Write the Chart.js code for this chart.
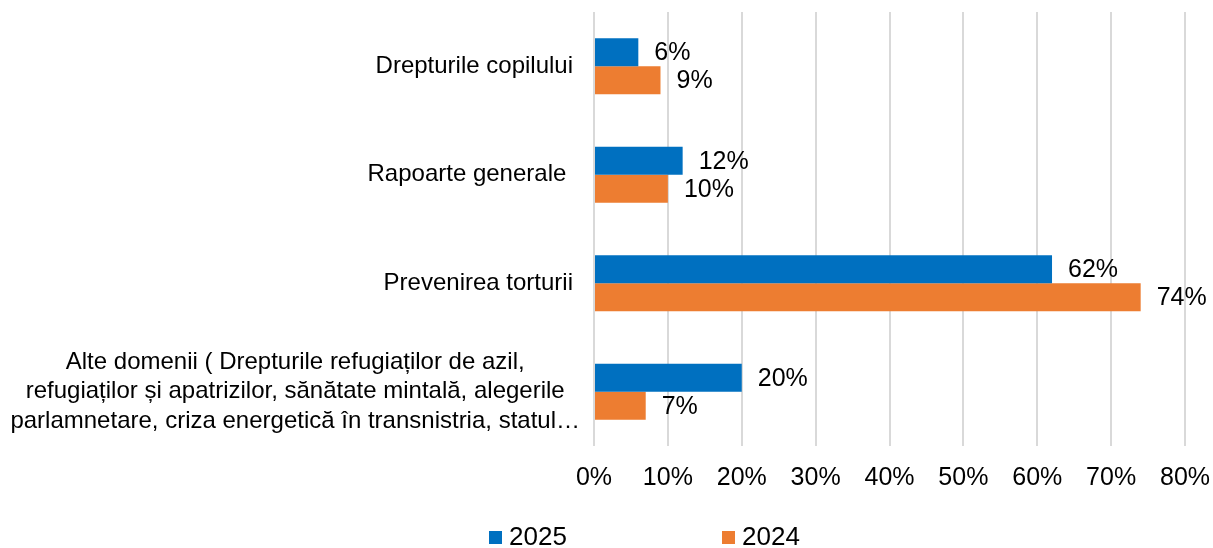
<!DOCTYPE html>
<html>
<head>
<meta charset="utf-8">
<script src="https://cdn.jsdelivr.net/npm/chart.js@4.4.1/dist/chart.umd.min.js"></script>
<style>
  html, body { margin: 0; padding: 0; background: #ffffff; }
  #wrap { width: 1213px; height: 548px; }
</style>
</head>
<body>
<div id="wrap"><canvas id="c" width="1213" height="548"></canvas></div>
<script>
const categories = [
  ["Drepturile copilului"],
  ["Rapoarte generale "],
  ["Prevenirea torturii"],
  ["Alte domenii ( Drepturile refugiaților de azil,",
   "refugiaților și apatrizilor, sănătate mintală, alegerile",
   "parlamnetare, criza energetică în transnistria, statul…"]
];
const seriesNames = ["2025", "2024"];
const values2025 = [6, 12, 62, 20];
const values2024 = [9, 10, 74, 7];
const xTicks = [0, 10, 20, 30, 40, 50, 60, 70, 80];
const seriesColors = ["#0070C0", "#ED7D31"];

const FONT = "'Liberation Sans', Arial, sans-serif";

const catLabelPlugin = {
  id: 'catLabels',
  afterDraw(chart) {
    const ctx = chart.ctx;
    const y = chart.scales.y;
    const lh = 29.5;
    ctx.save();
    ctx.font = "24px " + FONT;
    ctx.fillStyle = "#000000";
    ctx.textBaseline = "middle";
    categories.forEach((lines, i) => {
      const cy = y.getPixelForValue(i);
      const R = lines.length > 1 ? 580 : 573;
      const widths = lines.map(l => ctx.measureText(l).width);
      const maxW = Math.max(...widths);
      const cx = R - maxW / 2;
      ctx.textAlign = "center";
      lines.forEach((l, j) => {
        const ly = cy + (j - (lines.length - 1) / 2) * lh;
        ctx.fillText(l, cx, ly);
      });
    });
    ctx.restore();
  }
};

const dataLabelPlugin = {
  id: 'dataLabels',
  afterDatasetsDraw(chart) {
    const ctx = chart.ctx;
    ctx.save();
    ctx.font = "25px " + FONT;
    ctx.fillStyle = "#000000";
    ctx.textAlign = "left";
    ctx.textBaseline = "middle";
    chart.data.datasets.forEach((ds, di) => {
      const meta = chart.getDatasetMeta(di);
      meta.data.forEach((el, i) => {
        ctx.fillText(ds.data[i] + "%", el.x + 16, el.y + 1);
      });
    });
    ctx.restore();
  }
};

const legendPlugin = {
  id: 'customLegend',
  afterDraw(chart) {
    const ctx = chart.ctx;
    const items = [{x: 489}, {x: 722}];
    ctx.save();
    ctx.font = "26px " + FONT;
    ctx.textAlign = "left";
    ctx.textBaseline = "middle";
    chart.data.datasets.forEach((ds, i) => {
      const x = items[i].x;
      ctx.fillStyle = ds.backgroundColor;
      ctx.fillRect(x, 531, 13, 13);
      ctx.fillStyle = "#000000";
      ctx.fillText(ds.label, x + 20, 538);
    });
    ctx.restore();
  }
};

new Chart(document.getElementById('c'), {
  type: 'bar',
  data: {
    labels: categories,
    datasets: [
      { label: seriesNames[0], data: values2025, backgroundColor: seriesColors[0],
        barPercentage: 1.0, categoryPercentage: 0.516 },
      { label: seriesNames[1], data: values2024, backgroundColor: seriesColors[1],
        barPercentage: 1.0, categoryPercentage: 0.516 }
    ]
  },
  options: {
    indexAxis: 'y',
    responsive: false,
    animation: false,
    devicePixelRatio: 1,
    layout: { padding: { left: 0, right: 28, top: 12, bottom: 52 } },
    plugins: {
      legend: { display: false },
      tooltip: { enabled: false }
    },
    scales: {
      x: {
        type: 'linear',
        min: 0,
        max: 80,
        afterBuildTicks(s) { s.ticks = xTicks.map(v => ({ value: v })); },
        afterFit(s) { s.height = 50; s.paddingLeft = 0; s.paddingRight = 0; },
        grid: { color: '#d9d9d9', lineWidth: 2, drawTicks: false },
        border: { display: false },
        ticks: {
          padding: 17,
          color: '#000000',
          font: { family: FONT, size: 25 },
          callback: v => v + '%'
        }
      },
      y: {
        afterFit(s) { s.width = 594; },
        grid: { display: false, drawTicks: false },
        border: { display: false },
        ticks: { display: false }
      }
    }
  },
  plugins: [catLabelPlugin, dataLabelPlugin, legendPlugin]
});
</script>
</body>
</html>
